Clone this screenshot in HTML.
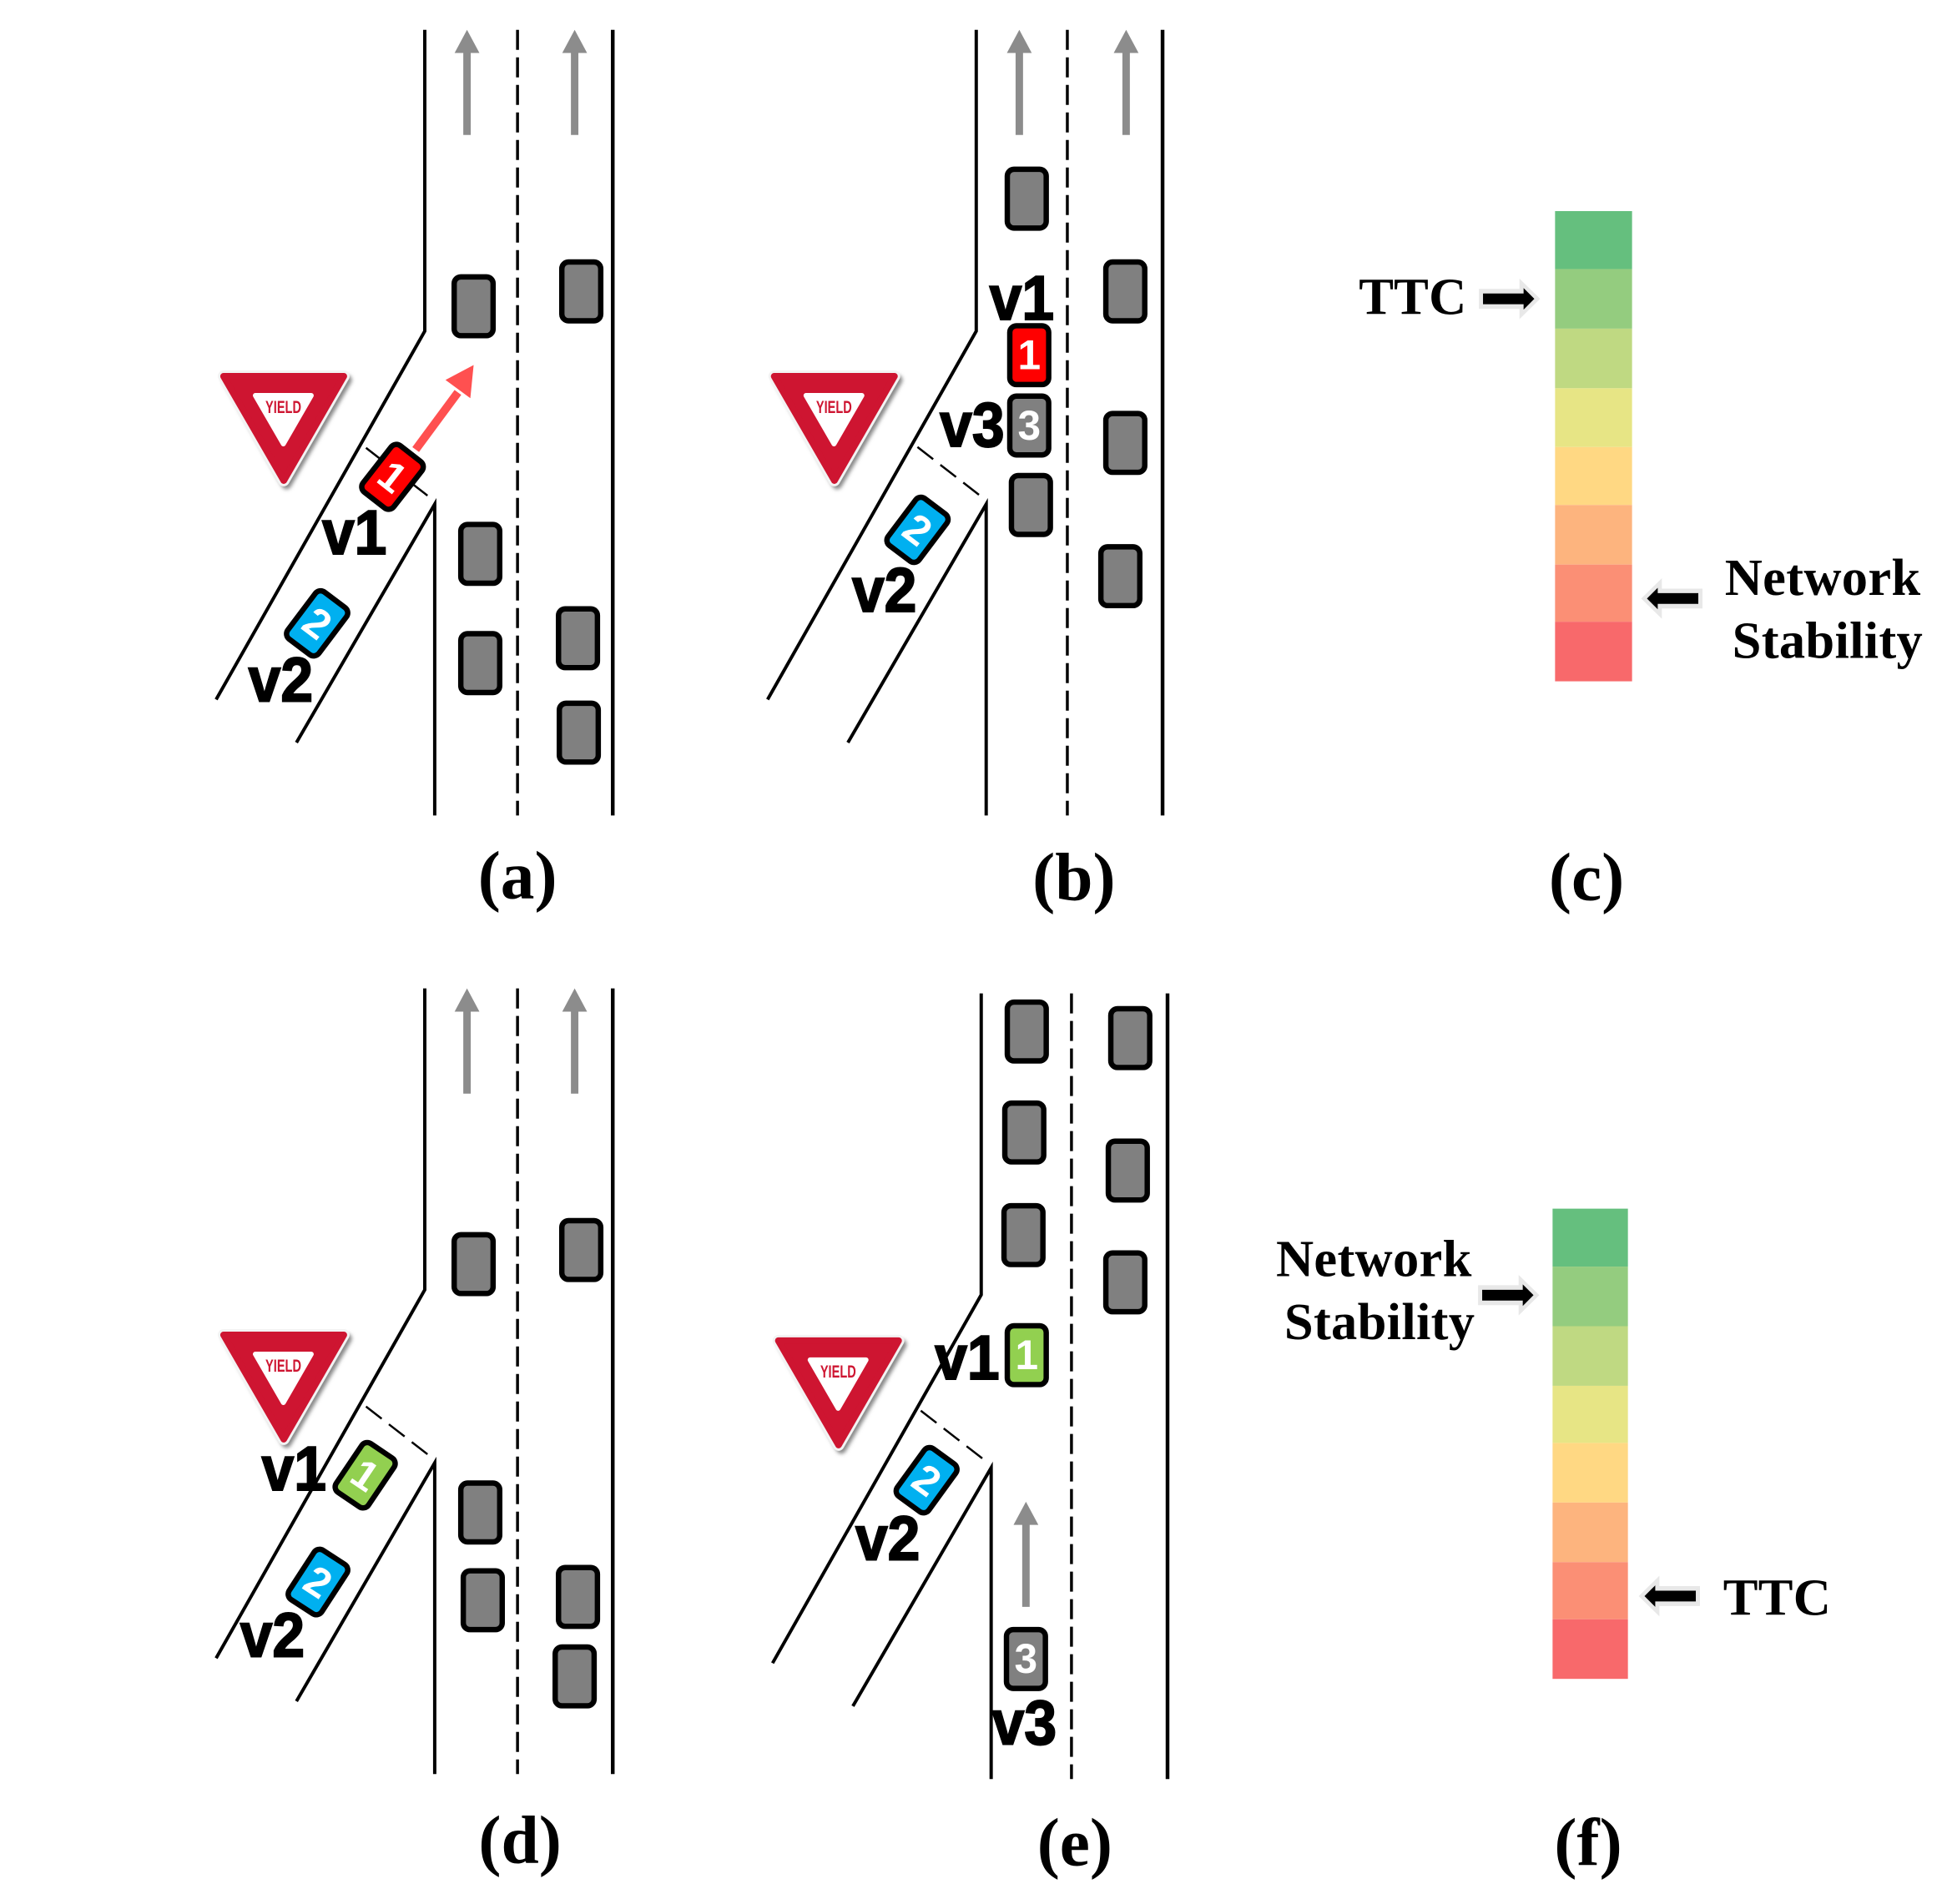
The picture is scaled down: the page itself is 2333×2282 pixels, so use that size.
<!DOCTYPE html>
<html><head><meta charset="utf-8"><style>
html,body{margin:0;padding:0;background:#fff}
svg{display:block}
.v{font:bold 76px "Liberation Sans",sans-serif;fill:#000;stroke:#000;stroke-width:2}
.d{font:bold 50px "Liberation Sans",sans-serif;fill:#fff;text-anchor:middle}
.s{font:bold 63px "Liberation Serif",serif;fill:#000;letter-spacing:.3px}
.c{font:bold 82px "Liberation Serif",serif;fill:#000;text-anchor:middle}
.y{font:bold 21px "Liberation Sans",sans-serif;fill:#CE1531;text-anchor:middle}
.k{stroke:#000;stroke-width:6.5}
</style></head><body>
<svg xmlns="http://www.w3.org/2000/svg" width="2333" height="2282" viewBox="0 0 2333 2282">
<defs>
<filter id="b" x="-20%" y="-20%" width="140%" height="140%"><feGaussianBlur stdDeviation="2.5"/></filter>
<g id="road" fill="none" stroke="#000" stroke-width="4">
<path d="M513 36V400L261 845"/>
<path d="M525 985V609L358 897"/>
</g>
<path id="yl" d="M442 541L518 600" fill="none" stroke="#000" stroke-width="2.5" stroke-dasharray="24 11"/>
<path id="rr" d="M0 36V985" fill="none" stroke="#000" stroke-width="4.5"/>
<path id="dd" d="M0 36V985" fill="none" stroke="#000" stroke-width="3.5" stroke-dasharray="24.2 9.06"/>
<g id="ga" fill="#8c8c8c"><path d="M0 0L15 28H4.5V127H-4.5V28H-15Z"/></g>
<g id="sign">
<path d="M275 459H419L346 585Z" fill="#888" stroke="#888" stroke-width="12" stroke-linejoin="round" filter="url(#b)"/>
<path d="M270 454.5H415.2L342.7 580.5Z" fill="#fff" stroke="#f3f3f3" stroke-width="14" stroke-linejoin="round"/>
<path d="M270 454.5H415.2L342.7 580.5Z" fill="#CE1531" stroke="#CE1531" stroke-width="8" stroke-linejoin="round"/>
<path d="M308.4 477.7H375.9L342.2 536.2Z" fill="#fff" stroke="#fff" stroke-width="6" stroke-linejoin="round"/>
</g>
<rect id="car" x="-23.5" y="-35.5" width="47" height="71" rx="8" stroke="#000" stroke-width="6.5" fill="#808080"/>
<g id="ar"><path d="M-5 -12H44V-24.5L69 0L44 24.5V12H-5Z" fill="#e8e8e8"/><path d="M0 -6.5H49V-13L62 0L49 13V6.5H0Z" fill="#000"/></g>
</defs>

<rect width="2333" height="2282" fill="#fff"/>
<g transform="scale(.9922)">

<!-- (a) -->
<use href="#road"/><use href="#yl"/><use href="#dd" x="625"/><use href="#rr" x="740"/>
<use href="#ga" x="564" y="36"/><use href="#ga" x="694" y="36"/>
<use href="#sign"/><text class="y" x="342.2" y="499" textLength="43.3" lengthAdjust="spacingAndGlyphs">YIELD</text>
<use href="#car" x="572" y="370"/><use href="#car" x="702" y="352"/><use href="#car" x="580" y="669"/><use href="#car" x="580" y="801"/><use href="#car" x="698" y="771"/><use href="#car" x="699" y="885"/>
<path d="M502 543L553 474" stroke="#FF5050" stroke-width="10" fill="none"/><path d="M572 441L538 459L568 481Z" fill="#FF5050"/>
<g transform="translate(474 576) rotate(38)"><rect class="k" x="-23.5" y="-35.5" width="47" height="71" rx="8" fill="#f00"/><text class="d" y="17">1</text></g>
<g transform="translate(383 753) rotate(37)"><rect class="k" x="-23.5" y="-35.5" width="47" height="71" rx="8" fill="#00B0F0"/><text class="d" y="17">2</text></g>
<text class="v" x="389" y="669" textLength="78" lengthAdjust="spacingAndGlyphs">v1</text><text class="v" x="300" y="847" textLength="78" lengthAdjust="spacingAndGlyphs">v2</text>
<text class="c" x="625" y="1085">(a)</text>

<!-- (b) -->
<g transform="translate(666 0)"><use href="#road"/></g>
<g transform="translate(666 -1)"><use href="#yl"/></g>
<use href="#dd" x="1289"/><use href="#rr" x="1404"/>
<use href="#ga" x="1231" y="36"/><use href="#ga" x="1360" y="36"/>
<g transform="translate(665 0)"><use href="#sign"/></g><text class="y" x="1007.2" y="499" textLength="43.3" lengthAdjust="spacingAndGlyphs">YIELD</text>
<use href="#car" x="1240" y="240"/><use href="#car" x="1359" y="352"/><use href="#car" x="1359" y="535"/><use href="#car" x="1353" y="696"/><use href="#car" x="1245" y="610"/>
<g transform="translate(1243 429)"><rect class="k" x="-23.5" y="-35.5" width="47" height="71" rx="8" fill="#f00"/><text class="d" y="17">1</text></g>
<g transform="translate(1243 514)"><rect class="k" x="-23.5" y="-35.5" width="47" height="71" rx="8" fill="#808080"/><text class="d" y="17">3</text></g>
<g transform="translate(1108 640) rotate(37)"><rect class="k" x="-23.5" y="-35.5" width="47" height="71" rx="8" fill="#00B0F0"/><text class="d" y="17">2</text></g>
<text class="v" x="1195" y="386" textLength="78" lengthAdjust="spacingAndGlyphs">v1</text><text class="v" x="1135" y="539" textLength="78" lengthAdjust="spacingAndGlyphs">v3</text><text class="v" x="1029" y="739" textLength="78" lengthAdjust="spacingAndGlyphs">v2</text>
<text class="c" x="1297" y="1087">(b)</text>

<!-- (c) -->
<rect x="1878" y="255" width="93" height="70" fill="#65BF7E"/><rect x="1878" y="325" width="93" height="72" fill="#94CC7F"/><rect x="1878" y="397" width="93" height="72" fill="#BFD982"/><rect x="1878" y="469" width="93" height="71" fill="#E7E585"/><rect x="1878" y="540" width="93" height="70" fill="#FFD883"/><rect x="1878" y="610" width="93" height="72" fill="#FDB47E"/><rect x="1878" y="682" width="93" height="69" fill="#FB8F75"/><rect x="1878" y="751" width="93" height="72" fill="#F8696B"/>
<text class="s" x="1641" y="379.5">TTC</text>
<use href="#ar" x="1791" y="361"/>
<g transform="translate(2051 723) rotate(180)"><use href="#ar"/></g>
<text class="s" x="2083" y="718.5">Network</text><text class="s" x="2092" y="794.5">Stability</text>
<text class="c" x="1916" y="1087">(c)</text>

<!-- (d) -->
<g transform="translate(0 1158)"><use href="#road"/><use href="#yl"/><use href="#dd" x="625"/><use href="#rr" x="740"/><use href="#ga" x="564" y="36"/><use href="#ga" x="694" y="36"/><use href="#sign"/><text class="y" x="342.2" y="499" textLength="43.3" lengthAdjust="spacingAndGlyphs">YIELD</text></g>
<use href="#car" x="572" y="1527"/><use href="#car" x="702" y="1510"/><use href="#car" x="580" y="1827"/><use href="#car" x="583" y="1933"/><use href="#car" x="698" y="1929"/><use href="#car" x="694" y="2025"/>
<g transform="translate(441 1782) rotate(34)"><rect class="k" x="-23.5" y="-35.5" width="47" height="71" rx="8" fill="#92D050"/><text class="d" y="17">1</text></g>
<g transform="translate(384 1911) rotate(33)"><rect class="k" x="-23.5" y="-35.5" width="47" height="71" rx="8" fill="#00B0F0"/><text class="d" y="17">2</text></g>
<text class="v" x="316" y="1800" textLength="78" lengthAdjust="spacingAndGlyphs">v1</text><text class="v" x="290" y="2001" textLength="78" lengthAdjust="spacingAndGlyphs">v2</text>
<text class="c" x="628" y="2250">(d)</text>

<!-- (e) -->
<g transform="translate(672 1164)"><use href="#road"/><use href="#dd" x="622"/><use href="#rr" x="738"/></g>
<g transform="translate(670 1163)"><use href="#yl"/></g>
<g transform="translate(670 1165)"><use href="#sign"/><text class="y" x="342.2" y="499" textLength="43.3" lengthAdjust="spacingAndGlyphs">YIELD</text></g>
<use href="#ga" x="1239" y="1814"/>
<use href="#car" x="1240" y="1246"/><use href="#car" x="1365" y="1254"/><use href="#car" x="1237" y="1368"/><use href="#car" x="1362" y="1414"/><use href="#car" x="1236" y="1492"/><use href="#car" x="1359" y="1549"/>
<g transform="translate(1240 1637)"><rect class="k" x="-23.5" y="-35.5" width="47" height="71" rx="8" fill="#92D050"/><text class="d" y="17">1</text></g>
<g transform="translate(1119 1788) rotate(36)"><rect class="k" x="-23.5" y="-35.5" width="47" height="71" rx="8" fill="#00B0F0"/><text class="d" y="17">2</text></g>
<g transform="translate(1239 2004)"><rect class="k" x="-23.5" y="-35.5" width="47" height="71" rx="8" fill="#808080"/><text class="d" y="17">3</text></g>
<text class="v" x="1129" y="1666" textLength="78" lengthAdjust="spacingAndGlyphs">v1</text><text class="v" x="1033" y="1884" textLength="78" lengthAdjust="spacingAndGlyphs">v2</text><text class="v" x="1198" y="2107" textLength="78" lengthAdjust="spacingAndGlyphs">v3</text>
<text class="c" x="1298" y="2253">(e)</text>

<!-- (f) -->
<rect x="1875" y="1460" width="91" height="70" fill="#65BF7E"/><rect x="1875" y="1530" width="91" height="72" fill="#94CC7F"/><rect x="1875" y="1602" width="91" height="72" fill="#BFD982"/><rect x="1875" y="1674" width="91" height="69" fill="#E7E585"/><rect x="1875" y="1743" width="91" height="72" fill="#FFD883"/><rect x="1875" y="1815" width="91" height="72" fill="#FDB47E"/><rect x="1875" y="1887" width="91" height="69" fill="#FB8F75"/><rect x="1875" y="1956" width="91" height="72" fill="#F8696B"/>
<text class="s" x="1541" y="1541.5">Network</text><text class="s" x="1551" y="1617.5">Stability</text>
<use href="#ar" x="1790" y="1564.5"/>
<g transform="translate(2048 1928) rotate(180)"><use href="#ar"/></g>
<text class="s" x="2081" y="1950.5">TTC</text>
<text class="c" x="1918" y="2253">(f)</text>
</g>
</svg>
</body></html>
